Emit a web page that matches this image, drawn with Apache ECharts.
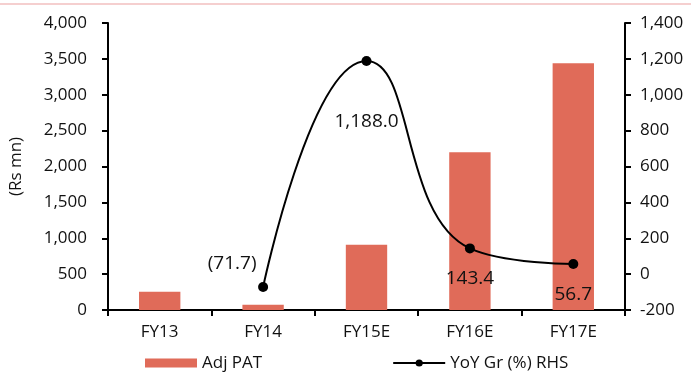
<!DOCTYPE html>
<html>
<head>
<meta charset="utf-8">
<script src="https://cdn.jsdelivr.net/npm/echarts@6/dist/echarts.min.js"></script>
<style>
  html, body { margin: 0; padding: 0; background: #fff; }
  #chart { width: 691px; height: 372px; }
</style>
</head>
<body>
<div id="chart"></div>
<script>
// Fiscal years on the category axis
const categories = ['FY13', 'FY14', 'FY15E', 'FY16E', 'FY17E'];
// Adjusted PAT, Rs mn (left axis)
const adjPat = [255, 72, 910, 2200, 3440];
// Year-on-year growth, % (right axis); FY13 has no prior year
const yoyGrowth = [null, -71.7, 1188.0, 143.4, 56.7];
// Axis tick settings
const leftTicks = { min: 0, max: 4000, interval: 500 };
const rightTicks = { min: -200, max: 1400, interval: 200 };

const FONT = '"Open Sans", "Noto Sans", sans-serif';
const BAR_COLOR = '#E06B59';
const TEXT = '#111';

function fmtNum(v) {
  return Math.round(v).toLocaleString('en-US');
}
function fmtPct(v) {
  const s = Math.abs(v).toLocaleString('en-US', { minimumFractionDigits: 1, maximumFractionDigits: 1 });
  return v < 0 ? '(' + s + ')' : s;
}

// per-point label placement for the growth line
const labelOffsets = [null, [-31, -23], [0, 61], [0, 30], [0, 31]];

const chart = echarts.init(document.getElementById('chart'));
chart.setOption({
  animation: false,
  textStyle: { fontFamily: FONT },
  graphic: [{
    type: 'rect',
    shape: { x: 0, y: 3, width: 691, height: 2 },
    style: { fill: '#F5CFCF' }
  }],
  grid: { left: 106, right: 66, top: 23, bottom: 62 },
  legend: {
    top: 349,
    left: 140,
    itemWidth: 52,
    itemHeight: 9,
    itemGap: 130,
    textStyle: { fontFamily: FONT, fontSize: 17, lineHeight: 18, color: TEXT },
    data: [
      { name: 'Adj PAT', icon: 'rect' },
      { name: 'YoY Gr (%) RHS' }
    ]
  },
  xAxis: {
    type: 'category',
    data: categories,
    boundaryGap: true,
    axisLine: { lineStyle: { color: '#000', width: 2 } },
    axisTick: { show: true, length: 6, lineStyle: { color: '#000', width: 2 } },
    axisLabel: { color: TEXT, fontSize: 17, fontFamily: FONT, margin: 14 }
  },
  yAxis: [{
    type: 'value',
    min: leftTicks.min, max: leftTicks.max, interval: leftTicks.interval,
    name: '(Rs mn)',
    nameLocation: 'middle',
    nameGap: 83,
    nameRotate: 90,
    nameTextStyle: { color: TEXT, fontSize: 17, fontFamily: FONT },
    axisLine: { show: true, lineStyle: { color: '#000', width: 2 } },
    axisTick: { show: true, length: 6, lineStyle: { color: '#000', width: 2 } },
    splitLine: { show: false },
    axisLabel: { color: TEXT, fontSize: 17, fontFamily: FONT, margin: 21, formatter: fmtNum }
  }, {
    type: 'value',
    position: 'right',
    min: rightTicks.min, max: rightTicks.max, interval: rightTicks.interval,
    axisLine: { show: true, lineStyle: { color: '#000', width: 2 } },
    axisTick: { show: true, length: 6, lineStyle: { color: '#000', width: 2 } },
    splitLine: { show: false },
    axisLabel: { color: TEXT, fontSize: 17, fontFamily: FONT, margin: 15, formatter: fmtNum }
  }],
  series: [{
    name: 'Adj PAT',
    type: 'bar',
    yAxisIndex: 0,
    data: adjPat,
    barWidth: '40%',
    itemStyle: { color: BAR_COLOR }
  }, {
    name: 'YoY Gr (%) RHS',
    type: 'line',
    yAxisIndex: 1,
    data: yoyGrowth.map((v, i) => v === null ? null : {
      value: v,
      label: { offset: labelOffsets[i] }
    }),
    smooth: 0.5,
    symbol: 'circle',
    symbolSize: 10,
    lineStyle: { color: '#000', width: 2 },
    itemStyle: { color: '#000' },
    label: {
      show: true,
      position: 'inside',
      color: TEXT,
      fontSize: 19,
      fontFamily: FONT,
      formatter: p => fmtPct(p.value)
    }
  }]
});
</script>
</body>
</html>
